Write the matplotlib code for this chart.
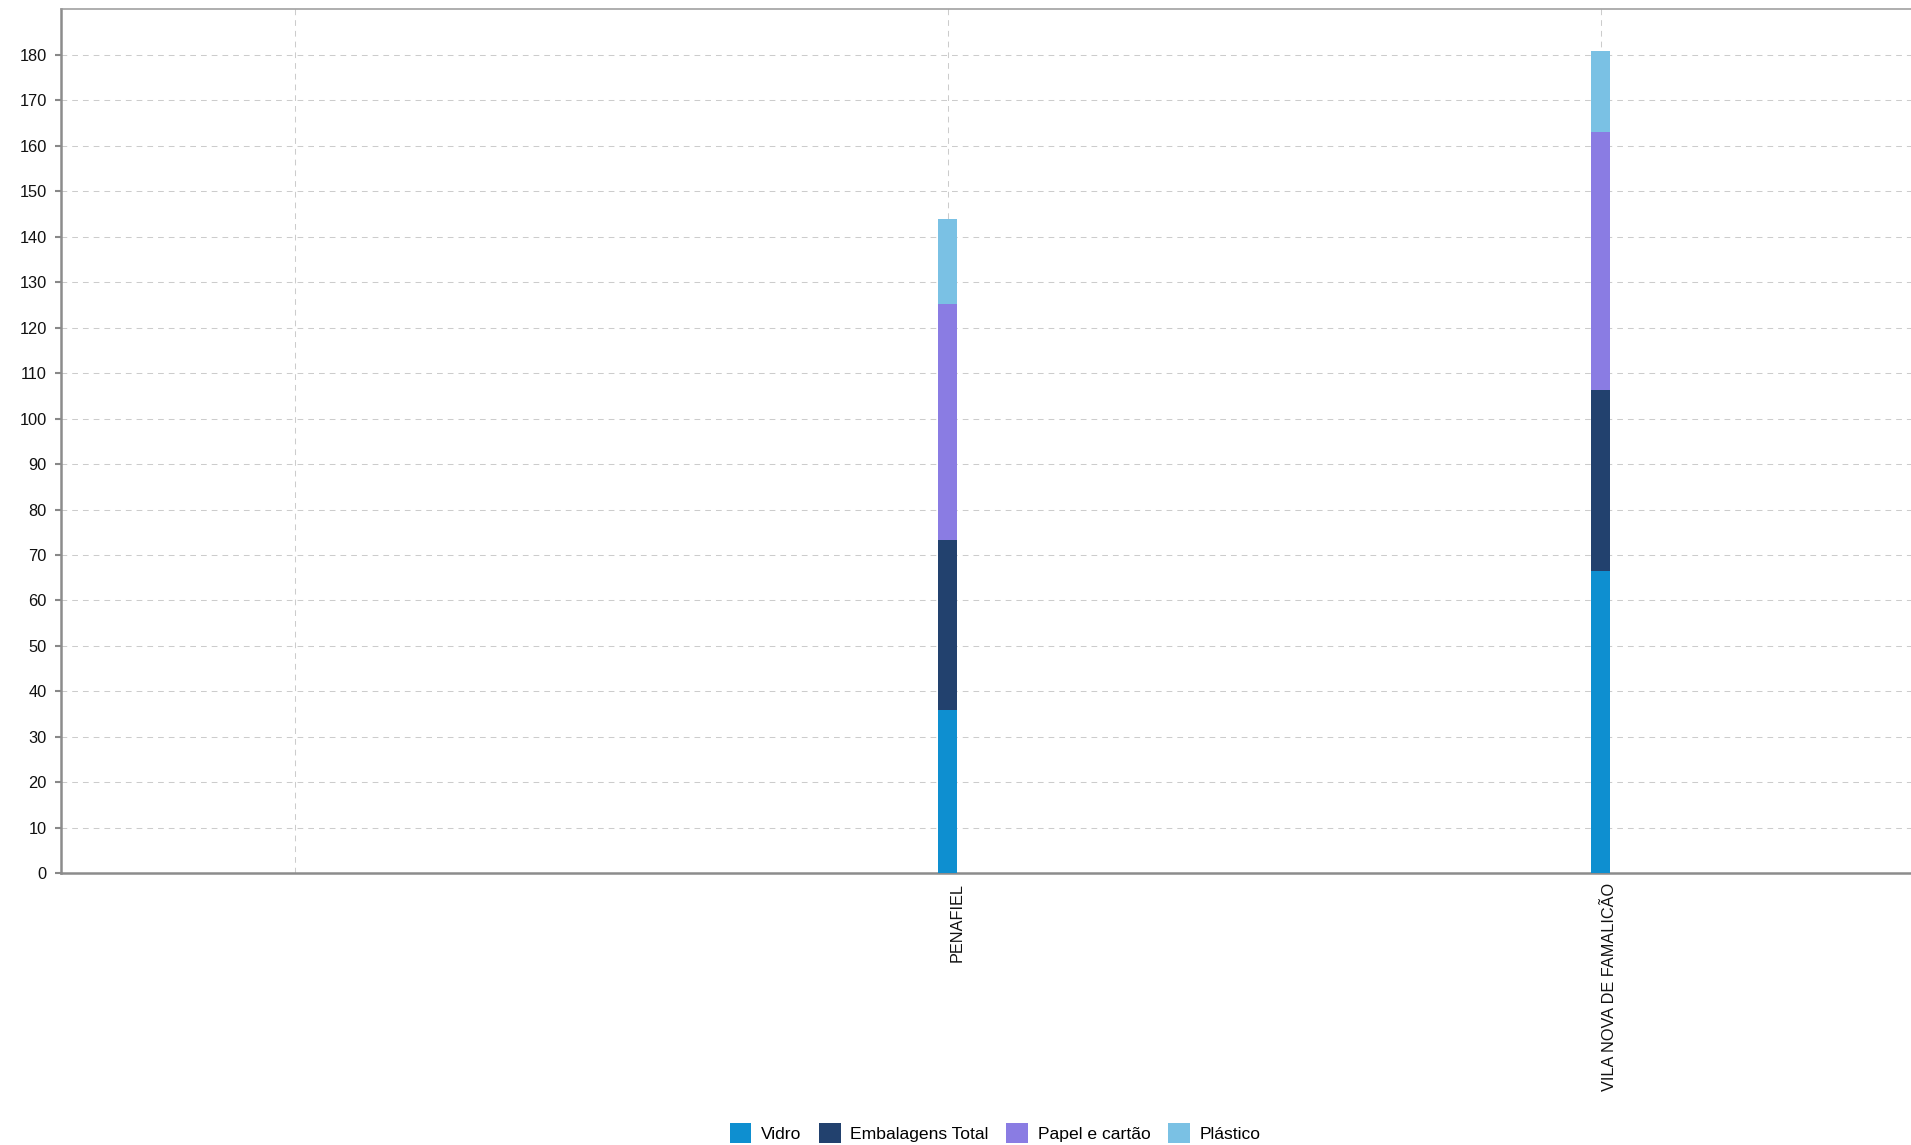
import matplotlib
matplotlib.use("Agg")
import matplotlib.pyplot as plt
import numpy as np

plt.rcParams['font.family'] = ['Liberation Sans', 'DejaVu Sans']

# dados
municipios = ["", "PENAFIEL", "VILA NOVA DE FAMALICÃO"]
series = ["Vidro", "Embalagens Total", "Papel e cartão", "Plástico"]
vidro = [0, 35.9, 66.4]
embalagens = [0, 37.4, 39.8]
papel = [0, 52.0, 56.9]
plastico = [0, 18.5, 17.8]
cores = ["#0e8fd0", "#22416e", "#8a7ce3", "#7ac1e4"]
y_ticks = list(range(0, 190, 10))

W, H = 1911, 1145
fig = plt.figure(figsize=(W / 100, H / 100), dpi=100)
ax = fig.add_axes([61 / W, (H - 873.3) / H, (W - 61) / W, 864 / H])

x = np.arange(len(municipios))
base = np.zeros(len(municipios))
for nome, vals, cor in zip(series, [vidro, embalagens, papel, plastico], cores):
    ax.bar(x, vals, width=0.029, bottom=base, color=cor, label=nome, linewidth=0, zorder=3)
    base = base + np.array(vals)

ax.set_xlim(-0.358, 2.475)
ax.set_ylim(0, 190)
ax.set_yticks(y_ticks)

# ticks principais so para a grelha; rotulos em ticks menores um pouco a direita
ax.set_xticks(x)
ax.set_xticklabels([])
ax.set_xticks(x + 0.014, minor=True)
ax.set_xticklabels(municipios, minor=True, rotation=90, ha='center', va='top',
                   fontsize=11.7, color='#111111')

ax.grid(True, which='major', color='#cccccc', linewidth=0.75, linestyle=(0, (5.5, 4.8)), zorder=0)
ax.set_axisbelow(True)

ax.tick_params(axis='y', length=4.3, width=1.5, color='#888888', pad=6, labelsize=11.8, labelcolor='#111111')
ax.tick_params(axis='x', which='both', length=0, pad=7)

for s in ['left', 'bottom']:
    ax.spines[s].set_color('#8c8c8c')
    ax.spines[s].set_linewidth(1.8)
ax.spines['top'].set_color('#999999')
ax.spines['top'].set_linewidth(1.1)
ax.spines['right'].set_visible(False)

fig.legend(loc='center', bbox_to_anchor=(995 / W, 1 - 1133 / H), ncol=4, frameon=False,
           fontsize=12.6, handlelength=1.25, handleheight=1.3, handletextpad=0.55,
           columnspacing=1.0, borderaxespad=0, borderpad=0)

fig.savefig("out.png", dpi=100)
